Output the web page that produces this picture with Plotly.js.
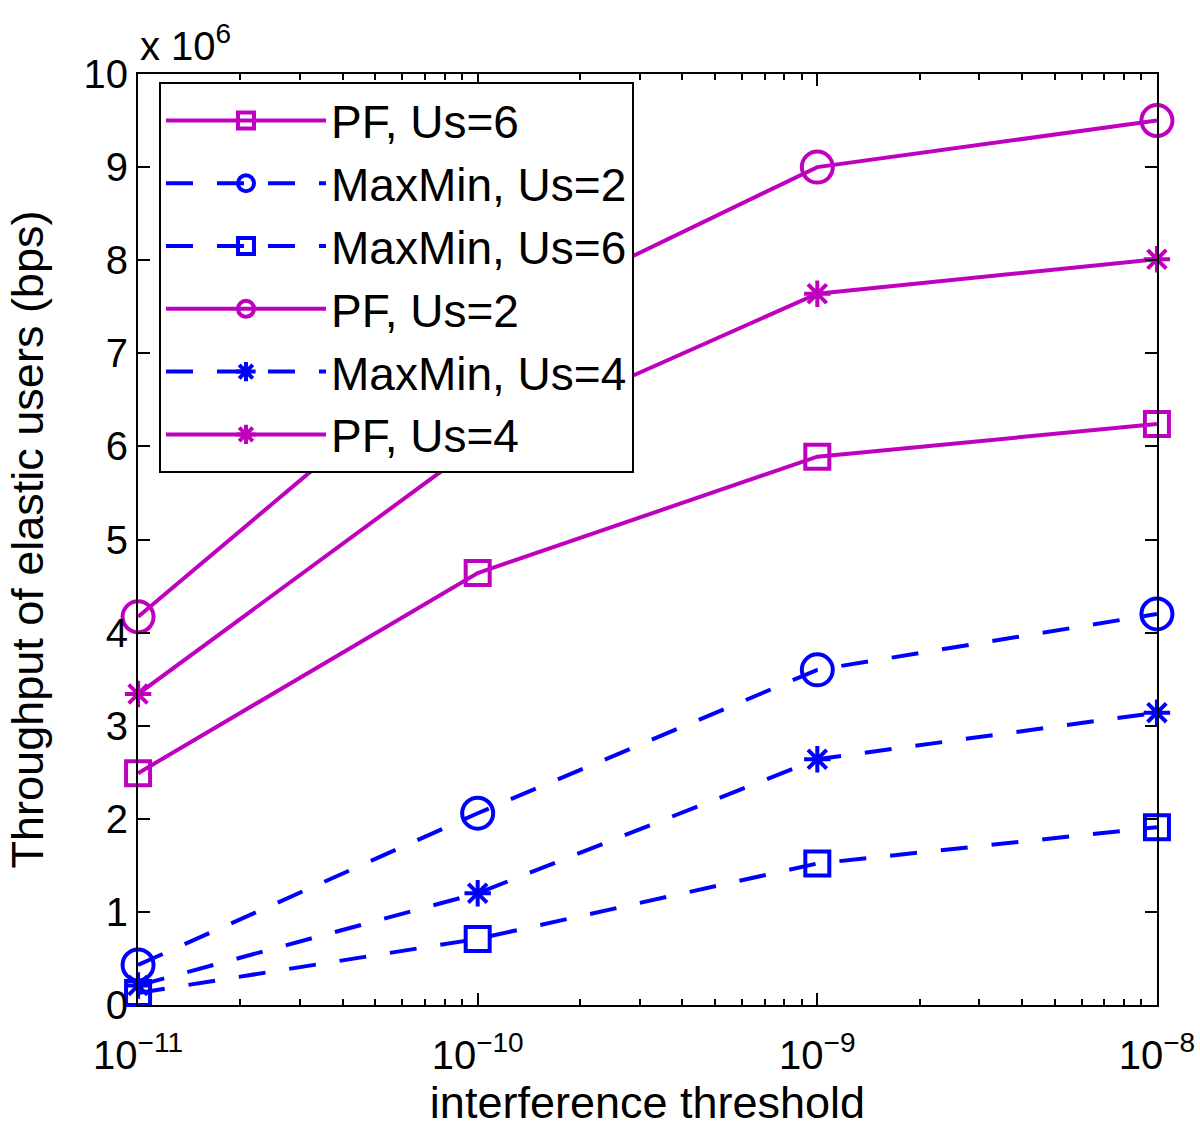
<!DOCTYPE html>
<html>
<head>
<meta charset="utf-8">
<script src="https://cdn.plot.ly/plotly-3.0.1.min.js"></script>
<style>html,body{margin:0;padding:0;background:#fff;}#chart{width:1200px;height:1137px;}</style>
</head>
<body>
<div id="chart"></div>
<script>
// x values: interference threshold
const thresholds = [1e-11, 1e-10, 1e-9, 1e-8];
// throughput values (units of 1e6 bps)
const pfUs6 = [2.49, 4.64, 5.89, 6.24];
const maxminUs2 = [0.43, 2.06, 3.60, 4.20];
const maxminUs6 = [0.13, 0.71, 1.52, 1.91];
const pfUs2 = [4.17, 7.24, 9.00, 9.50];
const maxminUs4 = [0.21, 1.20, 2.64, 3.14];
const pfUs4 = [3.34, 6.02, 7.64, 8.01];
const seriesNames = ['PF, Us=6', 'MaxMin, Us=2', 'MaxMin, Us=6', 'PF, Us=2', 'MaxMin, Us=4', 'PF, Us=4'];
const xTickVals = [1e-11, 1e-10, 1e-9, 1e-8];
const xTickText = ['10<sup>\u221211</sup>', '10<sup>\u221210</sup>', '10<sup>\u22129</sup>', '10<sup>\u22128</sup>'];

const MAG = '#BF00BF';
const BLUE = '#0000FF';
const DASH = '27px,24px';

function tr(name, y, color, dash, symbol, size, group) {
  return {
    x: thresholds, y: y, name: name, type: 'scatter', mode: 'lines+markers',
    legendgroup: group,
    cliponaxis: false,
    line: {color: color, width: 4, dash: dash},
    marker: {symbol: symbol, size: size, color: color, line: {color: color, width: 4}}
  };
}

const data = [
  tr(seriesNames[0], pfUs6, MAG, 'solid', 'square-open', 24, 'g1'),
  tr(seriesNames[1], maxminUs2, BLUE, DASH, 'circle-open', 31, 'g2'),
  tr(seriesNames[2], maxminUs6, BLUE, DASH, 'square-open', 24, 'g3'),
  tr(seriesNames[3], pfUs2, MAG, 'solid', 'circle-open', 31, 'g4'),
  tr(seriesNames[4], maxminUs4, BLUE, DASH, 'asterisk-open', 22, 'g5'),
  tr(seriesNames[5], pfUs4, MAG, 'solid', 'asterisk-open', 22, 'g6')
];

const FONT = 'Liberation Sans, Arial, Helvetica, sans-serif';
const XRANGE = [-11.0002, -7.9998];

const layout = {
  width: 1200, height: 1137,
  margin: {l: 138, r: 43, t: 74, b: 132, pad: 0},
  paper_bgcolor: '#fff', plot_bgcolor: '#fff',
  font: {family: FONT, size: 40, color: '#000'},
  showlegend: true,
  legend: {
    x: 0.0206, y: 0.9914, xanchor: 'left', yanchor: 'top',
    bgcolor: '#fff', bordercolor: '#000', borderwidth: 2,
    font: {family: FONT, size: 46, color: '#000'},
    traceorder: 'grouped', tracegroupgap: 0, itemwidth: 160
  },
  xaxis: {
    type: 'log', range: XRANGE,
    tickmode: 'array', tickvals: xTickVals, ticktext: xTickText,
    ticks: 'inside', ticklen: 12, tickwidth: 2, tickcolor: '#000',
    ticklabelstandoff: 14,
    minor: {ticks: 'inside', ticklen: 6, tickwidth: 2, tickcolor: '#000', dtick: 'D1'},
    showgrid: false, zeroline: false,
    showline: true, linecolor: '#000', linewidth: 2, mirror: 'ticks',
    tickfont: {family: FONT, size: 40, color: '#000'},
    title: {text: 'interference threshold', font: {family: FONT, size: 45, color: '#000'}, standoff: 8}
  },
  xaxis2: {
    type: 'log', range: XRANGE, overlaying: 'x', side: 'top', anchor: 'y',
    tickmode: 'array', tickvals: xTickVals, showticklabels: false,
    ticks: 'inside', ticklen: 12, tickwidth: 2, tickcolor: '#000',
    minor: {ticks: 'inside', ticklen: 6, tickwidth: 2, tickcolor: '#000', dtick: 'D1'},
    showgrid: false, zeroline: false, showline: false
  },
  yaxis: {
    range: [0, 10], dtick: 1, tick0: 0,
    ticks: 'inside', ticklen: 12, tickwidth: 2, tickcolor: '#000',
    showgrid: false, zeroline: false,
    showline: true, linecolor: '#000', linewidth: 2, mirror: 'ticks',
    tickfont: {family: FONT, size: 40, color: '#000'},
    title: {text: 'Throughput of elastic users (bps)', font: {family: FONT, size: 45, color: '#000'}, standoff: 26}
  },
  annotations: [{
    xref: 'paper', yref: 'paper', x: 0, y: 1, xanchor: 'left', yanchor: 'bottom',
    yshift: 4, showarrow: false,
    text: 'x 10<sup>6</sup>', font: {family: FONT, size: 40, color: '#000'}
  }]
};

Plotly.newPlot('chart', data, layout, {displayModeBar: false, staticPlot: true});
</script>
</body>
</html>
